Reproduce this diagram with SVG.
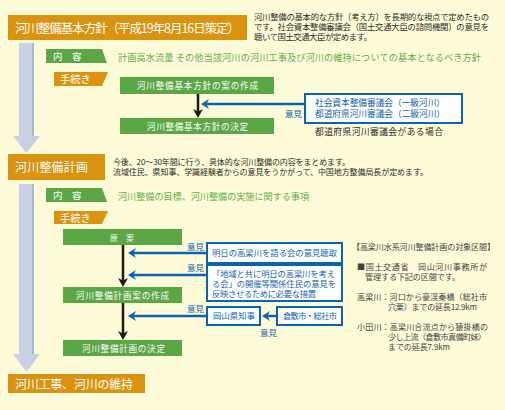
<svg xmlns="http://www.w3.org/2000/svg" width="505" height="410" viewBox="0 0 505 410">
<defs>
<style>
text{font-family:"Noto Sans CJK JP","Noto Sans",sans-serif;}
.ob{fill:#DA930F;}
.gb{fill:#5BA745;}
.wt{fill:#fff;}
.dk{fill:#2b2b2b;}
.gy{fill:#444;}
.gt{fill:#5FAE4A;}
.bt{fill:#1565B0;}
.bx{fill:#fff;stroke:#0B64B0;stroke-width:2;}
.bl{stroke:#0B64B0;stroke-width:2.5;fill:none;}
.kl{stroke:#231815;stroke-width:2.5;fill:none;}
.gr{fill:#C8D0E4;}
.gs{fill:#AEB6CC;}
</style>
<marker id="ak" markerUnits="userSpaceOnUse" viewBox="-8 -6 12 12" markerWidth="12" markerHeight="12" refX="0" refY="0" orient="auto">
<path d="M-6,-5 L3,0 L-6,5 L-3.5,0 Z" fill="#231815"/>
</marker>
<marker id="ab" markerUnits="userSpaceOnUse" viewBox="-8 -6 12 12" markerWidth="12" markerHeight="12" refX="0" refY="0" orient="auto">
<path d="M-5,-5 L3,0 L-5,5 L-2.5,0 Z" fill="#0B64B0"/>
</marker>
</defs>
<rect x="0" y="0" width="505" height="410" fill="#FEFBD8"/>

<g id="flow-arrows">
<rect class="gr" x="19" y="43" width="15" height="93"/>
<rect class="gs" x="32" y="43" width="2" height="93"/>
<polygon class="gr" points="13,136 40,136 26.5,153"/>
<rect class="gr" x="19" y="184" width="15" height="170"/>
<rect class="gs" x="32" y="184" width="2" height="170"/>
<polygon class="gr" points="13,354 40,354 26.5,372"/>
</g>

<g id="policy">
<rect class="ob" x="8" y="15" width="239" height="25"/>
<text class="wt" x="15" y="32.5" font-size="12.5" textLength="225">河川整備基本方針（平成19年8月16日策定）</text>
</g>
<g id="policy-desc" font-size="8.4">
<text class="dk" x="254" y="20" textLength="235">河川整備の基本的な方針（考え方）を長期的な視点で定めたもの</text>
<text class="dk" x="254" y="30" textLength="235">です。社会資本整備審議会（国土交通大臣の諮問機関）の意見を</text>
<text class="dk" x="254" y="40" textLength="118">聴いて国土交通大臣が定めます。</text>
</g>
<g id="policy-content">
<polygon class="gb" points="46,49 102,49 107,63 46,63"/>
<text class="wt" x="53" y="60" font-size="9.5">内　容</text>
<text class="gt" x="118" y="60.5" font-size="9.2" textLength="363">計画高水流量 その他当該河川の河川工事及び河川の維持についての基本となるべき方針</text>
</g>
<g id="policy-proc">
<polygon class="ob" points="54,72 108,72 102,86 54,86"/>
<text class="wt" x="60" y="82.5" font-size="10.3">手続き</text>
</g>
<g id="policy-draft">
<rect class="gb" x="120" y="77" width="154" height="17"/>
<text class="wt" x="137" y="89" font-size="8.6" textLength="121">河川整備基本方針の案の作成</text>
</g>
<g id="policy-decide">
<rect class="gb" x="120" y="118" width="154" height="16"/>
<text class="wt" x="147" y="129.5" font-size="8.6" textLength="101">河川整備基本方針の決定</text>
</g>
<g id="council">
<rect class="bx" x="305" y="94" width="157" height="29"/>
<text class="bt" x="315" y="106" font-size="8.7" textLength="130">社会資本整備審議会（一級河川）</text>
<text class="bt" x="315" y="116.5" font-size="8.7" textLength="130">都道府県河川審議会（二級河川）</text>
<text class="dk" x="315" y="134.5" font-size="8.8" textLength="128">都道府県河川審議会がある場合</text>
</g>

<g id="plan">
<rect class="ob" x="8" y="154" width="97" height="26"/>
<text class="wt" x="15" y="171.5" font-size="12" textLength="73">河川整備計画</text>
</g>
<g id="plan-desc" font-size="8">
<text class="dk" x="113" y="165" textLength="237">今後、20～30年間に行う、具体的な河川整備の内容をまとめます。</text>
<text class="dk" x="113" y="175" textLength="315">流域住民、県知事、学識経験者からの意見をうかがって、中国地方整備局長が定めます。</text>
</g>
<g id="plan-content">
<polygon class="gb" points="46,188 102,188 107,202 46,202"/>
<text class="wt" x="53" y="199" font-size="9.5">内　容</text>
<text class="gt" x="118" y="199.5" font-size="9.1" textLength="191">河川整備の目標、河川整備の実施に関する事項</text>
</g>
<g id="plan-proc">
<polygon class="ob" points="54,211 108,211 102,224 54,224"/>
<text class="wt" x="60" y="221.5" font-size="10.3">手続き</text>
</g>
<g id="plan-original">
<rect class="gb" x="63" y="229" width="119" height="16"/>
<text class="wt" x="110" y="240.5" font-size="8">原　案</text>
</g>
<g id="plan-draft">
<rect class="gb" x="63" y="287" width="119" height="16"/>
<text class="wt" x="76" y="298.5" font-size="8.6" textLength="93">河川整備計画案の作成</text>
</g>
<g id="plan-decide">
<rect class="gb" x="63" y="340" width="119" height="16"/>
<text class="wt" x="82" y="351.5" font-size="8.6" textLength="83">河川整備計画の決定</text>
</g>
<g id="hearing">
<rect class="bx" x="207" y="243" width="135" height="20"/>
<text class="bt" x="212" y="256" font-size="8.3" textLength="125">明日の高梁川を語る会の意見聴取</text>
</g>
<g id="residents">
<rect class="bx" x="207" y="265" width="135" height="36"/>
<text class="bt" x="212" y="276.5" font-size="8.3" textLength="123">「地域と共に明日の高梁川を考え</text>
<text class="bt" x="212" y="286.5" font-size="8.3" textLength="124">る会」の開催等関係住民の意見を</text>
<text class="bt" x="212" y="296.5" font-size="8.3" textLength="104">反映させるために必要な措置</text>
</g>
<g id="governor">
<rect class="bx" x="207" y="307" width="53" height="18"/>
<text class="bt" x="213" y="319" font-size="8.3" textLength="42">岡山県知事</text>
</g>
<g id="cities">
<rect class="bx" x="277" y="307" width="65" height="18"/>
<text class="bt" x="283" y="319" font-size="8.3" textLength="54">倉敷市・総社市</text>
</g>
<g id="scope" font-size="8.1">
<text class="gy" x="352" y="250" textLength="143">【高梁川水系河川整備計画の対象区間】</text>
<text class="gy" x="357" y="270" textLength="130">■国土交通省　岡山河川事務所が</text>
<text class="gy" x="365" y="280" textLength="95">管理する下記の区間です。</text>
<text class="gy" x="357" y="300" textLength="130">高梁川：河口から豪渓秦橋（総社市</text>
<text class="gy" x="388" y="310" textLength="89">穴栗）までの延長12.9km</text>
<text class="gy" x="357" y="330" textLength="131">小田川：高梁川合流点から猿掛橋の</text>
<text class="gy" x="388" y="340" textLength="98">少し上流（倉敷市真備町妹）</text>
<text class="gy" x="388" y="350" textLength="62">までの延長7.9km</text>
</g>

<g id="works">
<rect class="ob" x="8" y="374" width="137" height="19"/>
<text class="wt" x="15" y="388.5" font-size="12" textLength="118">河川工事、河川の維持</text>
</g>

<g id="connectors">
<line class="kl" x1="198" y1="94" x2="198" y2="115" marker-end="url(#ak)"/>
<line class="bl" x1="305" y1="104" x2="204" y2="104" marker-end="url(#ab)"/>
<line class="kl" x1="123" y1="245" x2="123" y2="284" marker-end="url(#ak)"/>
<line class="kl" x1="123" y1="303" x2="123" y2="337" marker-end="url(#ak)"/>
<line class="bl" x1="207" y1="253" x2="131" y2="253" marker-end="url(#ab)"/>
<line class="bl" x1="207" y1="275" x2="131" y2="275" marker-end="url(#ab)"/>
<line class="bl" x1="207" y1="316" x2="131" y2="316" marker-end="url(#ab)"/>
<line class="bl" x1="277" y1="316" x2="265" y2="316" marker-end="url(#ab)"/>
<g font-size="8.5">
<text class="bt" x="285" y="116.5">意見</text>
<text class="bt" x="187" y="249.5">意見</text>
<text class="bt" x="187" y="270.5">意見</text>
<text class="bt" x="187" y="311.5">意見</text>
<text class="bt" x="260" y="335.5">意見</text>
</g>
</g>
</svg>
